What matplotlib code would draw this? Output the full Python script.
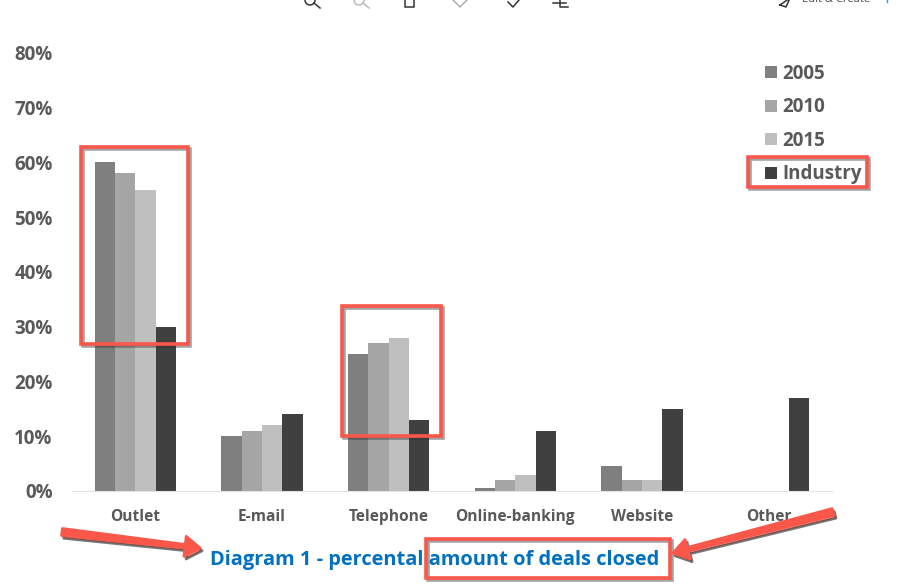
"""Grouped bar chart: deals closed per channel, with the red callouts on top."""

import matplotlib

matplotlib.use("Agg")
import matplotlib.patheffects as pe
import matplotlib.pyplot as plt
import numpy as np
from matplotlib.patches import Circle, Polygon, Rectangle

categories = ["Outlet", "E-mail", "Telephone", "Online-banking", "Website", "Other"]
values_2005 = [60, 10, 25, 0.5, 4.5, 0]
values_2010 = [58, 11, 27, 2, 2, 0]
values_2015 = [55, 12, 28, 3, 2, 0]
values_industry = [30, 14, 13, 11, 15, 17]
series_names = ["2005", "2010", "2015", "Industry"]
y_ticks = [0, 10, 20, 30, 40, 50, 60, 70, 80]

COLORS = ["#7f7f7f", "#a5a5a5", "#bfbfbf", "#404040"]
TEXT_GRAY = "#595959"
RED = "#f8574a"
FONT = "Open Sans"
W, H = 905, 588

plt.rcParams["font.family"] = [FONT, "DejaVu Sans"]

fig = plt.figure(figsize=(W / 100, H / 100), dpi=100)
ax = fig.add_axes([72 / W, 1 - 491 / H, 760 / W, 438 / H])

x = np.arange(len(categories))
bar_w = 0.161
all_series = [values_2005, values_2010, values_2015, values_industry]
for i, vals in enumerate(all_series):
    ax.bar(x + (i - 1.5) * bar_w, vals, bar_w, color=COLORS[i], label=series_names[i])

ax.set_xlim(-0.5, len(categories) - 0.5)
ax.set_ylim(0, 80)
ax.set_yticks(y_ticks)
ax.set_yticklabels([f"{v}%" for v in y_ticks], fontsize=13.5, fontweight="bold", color=TEXT_GRAY)
ax.set_xticks(x)
ax.set_xticklabels(categories, fontsize=11.2, fontweight="bold", color=TEXT_GRAY)
ax.tick_params(axis="both", length=0)
ax.tick_params(axis="x", pad=13.3)
ax.tick_params(axis="y", pad=14)
for side in ["top", "right", "left"]:
    ax.spines[side].set_visible(False)
ax.spines["bottom"].set_color("#e3e3e3")

leg = ax.legend(
    loc="upper left",
    bbox_to_anchor=((765 - 72) / 760, 1 - (64 - 53) / 438),
    frameon=False,
    handlelength=0.62,
    handleheight=0.62,
    handletextpad=0.3,
    labelspacing=0.72,
    borderpad=0,
    borderaxespad=0,
    prop={"size": 13.5, "weight": "bold"},
)
for t in leg.get_texts():
    t.set_color(TEXT_GRAY)

# overlay in pixel coordinates for the screenshot furniture and the callouts
ov = fig.add_axes([0, 0, 1, 1], facecolor="none")
ov.set_xlim(0, W)
ov.set_ylim(H, 0)
ov.axis("off")

ov.text(434.5, 559.5, "Diagram 1 - percental amount of deals closed", color="#0070c0",
        fontsize=14.4, fontweight="bold", ha="center", va="center")

box_effects = [
    pe.Stroke(linewidth=2.6, foreground="#333333", alpha=0.45, offset=(1.4, -1.4)),
    pe.Normal(),
]
arrow_effects = [
    pe.Stroke(linewidth=2, foreground="#222222", alpha=0.6, offset=(1.5, -2)),
    pe.Normal(),
]

for x0, y0, x1, y1 in [(81, 147, 188, 344), (342, 306, 441, 436), (748, 157, 867, 187), (426, 539, 670, 578)]:
    ov.add_patch(Rectangle((x0, y0), x1 - x0, y1 - y0, fill=False, ec=RED, lw=2.6, path_effects=box_effects))


def arrow(tail, tip, tail_w=7.0, body_w=3.5, head_w=20.0, head_len=15.0):
    tail = np.array(tail, float)
    tip = np.array(tip, float)
    d = (tip - tail) / np.linalg.norm(tip - tail)
    n = np.array([-d[1], d[0]])
    neck = tip - d * head_len
    pts = [tail + n * tail_w / 2, neck + n * body_w / 2, neck + n * head_w / 2, tip,
           neck - n * head_w / 2, neck - n * body_w / 2, tail - n * tail_w / 2]
    ov.add_patch(Polygon(pts, closed=True, fc=RED, ec=RED, lw=2, joinstyle="round", path_effects=arrow_effects))


arrow((62, 532), (200, 548))
arrow((833, 512), (673, 553))

# viewer toolbar, cut off by the top edge of the screenshot
icon = {"color": "#333333", "lw": 1.1}
ov.add_patch(Circle((310, 0), 5, fill=False, ec="#333333", lw=1.1))
ov.plot([314, 320], [3, 8], **icon)
ov.add_patch(Circle((359, 0), 5, fill=False, ec="#bbbbbb", lw=1.1))
ov.plot([363, 369], [3, 8], color="#bbbbbb", lw=1.1)
ov.add_patch(Rectangle((405, -3), 9, 10, fill=False, ec="#333333", lw=1.1))
ov.plot([453, 460, 467], [0, 7, 0], color="#aaaaaa", lw=1.0)
ov.plot([519, 513, 508], [0, 7, 2], **icon)
ov.plot([553, 566], [3, 3], **icon)
ov.plot([560, 560, 568], [-2, 7, 7], **icon)
ov.plot([780, 790, 786, 780], [5, -2, 7, 5], **icon)
ov.text(802, 0, "Edit & Create", color="#444444", fontsize=8, ha="left", va="center", clip_on=True)
ov.plot([887, 887], [-1, 2], color="#3a8ee0", lw=1.0)

fig.savefig("out.png", dpi=100)
